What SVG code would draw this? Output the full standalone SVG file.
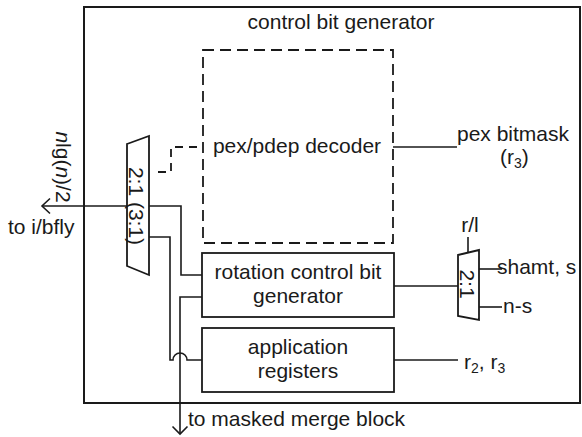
<svg xmlns="http://www.w3.org/2000/svg" width="582" height="437" viewBox="0 0 582 437">
<style>
  text { font-family: "Liberation Sans", Arial, sans-serif; font-size: 21px; fill: #1a1a1a; }
  .box { fill: #ffffff; stroke: #1a1a1a; stroke-width: 1.8; }
  .outer { fill: none; stroke: #1a1a1a; stroke-width: 2; }
  .dash { fill: none; stroke: #1a1a1a; stroke-width: 1.8; stroke-dasharray: 11 6; }
  .wire { fill: none; stroke: #1a1a1a; stroke-width: 1.6; }
  .mid { text-anchor: middle; }
  .sub { font-size: 14px; }
</style>
<rect width="582" height="437" fill="#ffffff"/>

<g id="control-bit-generator">
  <rect class="outer" x="84" y="7" width="496" height="396"/>
  <text class="mid" x="341" y="29">control bit generator</text>
</g>

<g id="connectors">
  <!-- mux output to i/bfly -->
  <path class="wire" d="M127 206 H42"/>
  <path class="wire" d="M50 198.5 L42 206 L50 213.5"/>
  <!-- dashed decoder to mux -->
  <path class="dash" d="M158 172 H171 V147 H203" style="stroke-dasharray: 8 6"/>
  <!-- mux input from rotation box -->
  <path class="wire" d="M149 206 H181 V275 H202"/>
  <!-- mux input from application registers, with hop -->
  <path class="wire" d="M149 237 H170 V360 H173 A7 7 0 0 1 187 360 H202"/>
  <!-- rotation box to masked merge block -->
  <path class="wire" d="M202 297 H180 V434"/>
  <path class="wire" d="M172.5 426.5 L180 434 L187.5 426.5"/>
  <!-- decoder to pex bitmask -->
  <path class="wire" d="M393 147 H457"/>
  <!-- rotation box to right mux -->
  <path class="wire" d="M394 286 H458"/>
  <!-- r/l select -->
  <path class="wire" d="M468 237 V252.6"/>
  <!-- right mux inputs -->
  <path class="wire" d="M479 269 H502"/>
  <path class="wire" d="M479 307 H502"/>
  <!-- application registers to r2, r3 -->
  <path class="wire" d="M394 360 H458"/>
</g>

<g id="pex-pdep-decoder">
  <rect class="dash" x="203" y="50" width="190" height="193"/>
  <text class="mid" x="297" y="153">pex/pdep decoder</text>
</g>

<g id="left-mux">
  <polygon class="box" points="127,144 149,136 149,275 127,266"/>
  <text class="mid" transform="translate(136,206) rotate(90)" y="7">2:1 (3:1)</text>
</g>

<g id="rotation-control-bit-generator">
  <rect class="box" x="202" y="253" width="192" height="64"/>
  <text class="mid" x="298" y="279">rotation control bit</text>
  <text class="mid" x="298" y="303">generator</text>
</g>

<g id="application-registers">
  <rect class="box" x="202" y="328" width="192" height="64"/>
  <text class="mid" x="298" y="354">application</text>
  <text class="mid" x="298" y="378">registers</text>
</g>

<g id="right-mux">
  <polygon class="box" points="458,255 479,250 479,320 458,316"/>
  <text class="mid" transform="translate(467,284) rotate(90)" y="7">2:1</text>
</g>

<g id="labels">
  <text transform="translate(63,167) rotate(90)" class="mid" y="7"><tspan font-style="italic">n</tspan>lg(<tspan font-style="italic">n</tspan>)/2</text>
  <text x="8" y="234">to i/bfly</text>
  <text x="188" y="426">to masked merge block</text>
  <text x="457" y="141">pex bitmask</text>
  <text x="500" y="164">(r<tspan class="sub" dy="4">3</tspan><tspan dy="-4">)</tspan></text>
  <text class="mid" x="470" y="232">r/l</text>
  <text x="497" y="274">shamt, s</text>
  <text x="503" y="313">n-s</text>
  <text x="464" y="369">r<tspan class="sub" dy="4">2</tspan><tspan dy="-4">, r</tspan><tspan class="sub" dy="4">3</tspan></text>
</g>
</svg>
